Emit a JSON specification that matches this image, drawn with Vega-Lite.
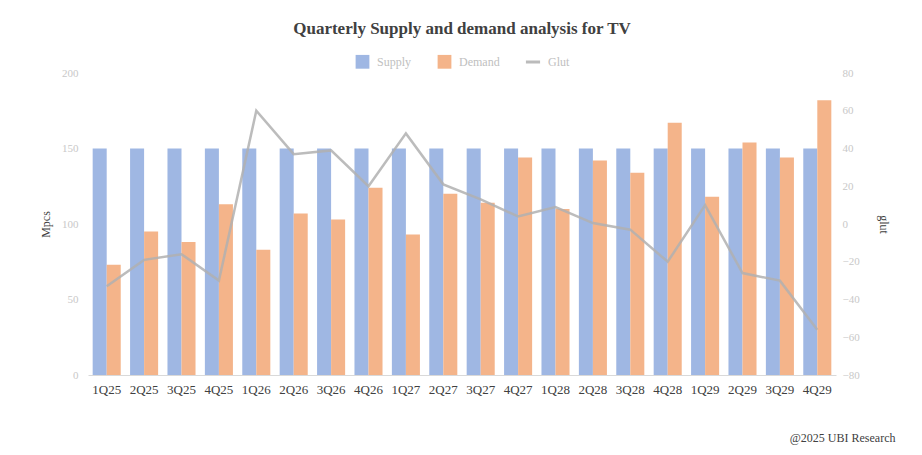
{
  "$schema": "https://vega.github.io/schema/vega-lite/v6.json",
  "width": 748,
  "height": 302,
  "autosize": "none",
  "padding": {"left": 88, "top": 73, "right": 86, "bottom": 80},
  "background": "white",
  "title": {
    "text": "Quarterly Supply and demand analysis for TV",
    "font": "Liberation Serif",
    "fontSize": 17,
    "fontWeight": "bold",
    "color": "#404040",
    "anchor": "middle",
    "offset": 15
  },
  "datasets": {
    "bars": [
      {"q": "1Q25", "series": "Supply", "value": 150}, {"q": "1Q25", "series": "Demand", "value": 73},
      {"q": "2Q25", "series": "Supply", "value": 150}, {"q": "2Q25", "series": "Demand", "value": 95},
      {"q": "3Q25", "series": "Supply", "value": 150}, {"q": "3Q25", "series": "Demand", "value": 88},
      {"q": "4Q25", "series": "Supply", "value": 150}, {"q": "4Q25", "series": "Demand", "value": 113},
      {"q": "1Q26", "series": "Supply", "value": 150}, {"q": "1Q26", "series": "Demand", "value": 83},
      {"q": "2Q26", "series": "Supply", "value": 150}, {"q": "2Q26", "series": "Demand", "value": 107},
      {"q": "3Q26", "series": "Supply", "value": 150}, {"q": "3Q26", "series": "Demand", "value": 103},
      {"q": "4Q26", "series": "Supply", "value": 150}, {"q": "4Q26", "series": "Demand", "value": 124},
      {"q": "1Q27", "series": "Supply", "value": 150}, {"q": "1Q27", "series": "Demand", "value": 93},
      {"q": "2Q27", "series": "Supply", "value": 150}, {"q": "2Q27", "series": "Demand", "value": 120},
      {"q": "3Q27", "series": "Supply", "value": 150}, {"q": "3Q27", "series": "Demand", "value": 114},
      {"q": "4Q27", "series": "Supply", "value": 150}, {"q": "4Q27", "series": "Demand", "value": 144},
      {"q": "1Q28", "series": "Supply", "value": 150}, {"q": "1Q28", "series": "Demand", "value": 110},
      {"q": "2Q28", "series": "Supply", "value": 150}, {"q": "2Q28", "series": "Demand", "value": 142},
      {"q": "3Q28", "series": "Supply", "value": 150}, {"q": "3Q28", "series": "Demand", "value": 134},
      {"q": "4Q28", "series": "Supply", "value": 150}, {"q": "4Q28", "series": "Demand", "value": 167},
      {"q": "1Q29", "series": "Supply", "value": 150}, {"q": "1Q29", "series": "Demand", "value": 118},
      {"q": "2Q29", "series": "Supply", "value": 150}, {"q": "2Q29", "series": "Demand", "value": 154},
      {"q": "3Q29", "series": "Supply", "value": 150}, {"q": "3Q29", "series": "Demand", "value": 144},
      {"q": "4Q29", "series": "Supply", "value": 150}, {"q": "4Q29", "series": "Demand", "value": 182}
    ],
    "glut": [
      {"q": "1Q25", "series": "Glut", "glut": -33},
      {"q": "2Q25", "series": "Glut", "glut": -19},
      {"q": "3Q25", "series": "Glut", "glut": -16},
      {"q": "4Q25", "series": "Glut", "glut": -30},
      {"q": "1Q26", "series": "Glut", "glut": 60},
      {"q": "2Q26", "series": "Glut", "glut": 37},
      {"q": "3Q26", "series": "Glut", "glut": 39},
      {"q": "4Q26", "series": "Glut", "glut": 20},
      {"q": "1Q27", "series": "Glut", "glut": 48},
      {"q": "2Q27", "series": "Glut", "glut": 21},
      {"q": "3Q27", "series": "Glut", "glut": 13},
      {"q": "4Q27", "series": "Glut", "glut": 4},
      {"q": "1Q28", "series": "Glut", "glut": 9},
      {"q": "2Q28", "series": "Glut", "glut": 0.5},
      {"q": "3Q28", "series": "Glut", "glut": -3},
      {"q": "4Q28", "series": "Glut", "glut": -20},
      {"q": "1Q29", "series": "Glut", "glut": 10},
      {"q": "2Q29", "series": "Glut", "glut": -26},
      {"q": "3Q29", "series": "Glut", "glut": -30},
      {"q": "4Q29", "series": "Glut", "glut": -56}
    ]
  },
  "encoding": {
    "x": {
      "field": "q",
      "type": "nominal",
      "sort": null,
      "scale": {"paddingInner": 0.25, "paddingOuter": 0.125},
      "axis": {
        "title": "@2025 UBI Research",
        "titleFont": "Liberation Serif",
        "titleFontSize": 12,
        "titleFontWeight": "normal",
        "titleColor": "#404040",
        "titleAlign": "right",
        "titleAnchor": "end",
        "titleBaseline": "alphabetic",
        "titleX": 807,
        "titleY": 66,
        "labelAngle": 0,
        "labelFont": "Liberation Serif",
        "labelFontSize": 13,
        "labelColor": "#404040",
        "labelPadding": 8,
        "ticks": false,
        "domain": true,
        "domainColor": "#d9d9d9",
        "grid": false
      }
    }
  },
  "layer": [
    {
      "data": {"name": "bars"},
      "mark": {"type": "bar"},
      "encoding": {
        "xOffset": {"field": "series", "type": "nominal", "sort": ["Supply", "Demand"]},
        "y": {
          "field": "value",
          "type": "quantitative",
          "scale": {"domain": [0, 200]},
          "axis": {
            "title": "Mpcs",
            "titleFont": "Liberation Serif",
            "titleFontSize": 12,
            "titleFontWeight": "normal",
            "titleColor": "#404040",
            "titleX": -43,
            "titleY": 151,
            "titleAngle": -90,
            "titleAlign": "center",
            "titleBaseline": "middle",
            "values": [0, 50, 100, 150, 200],
            "labelFont": "Liberation Serif",
            "labelFontSize": 11,
            "labelColor": "#c8c8c8",
            "labelPadding": 10,
            "ticks": false,
            "domain": false,
            "grid": false
          }
        },
        "fill": {
          "field": "series",
          "type": "nominal",
          "sort": ["Supply", "Demand"],
          "scale": {"domain": ["Supply", "Demand"], "range": ["#9fb7e3", "#f4b48a"]},
          "legend": {"title": null, "columnPadding": 24, "symbolType": "square", "symbolSize": 190, "labelOffset": 6}
        }
      }
    },
    {
      "data": {"name": "glut"},
      "mark": {"type": "line", "strokeWidth": 2.5, "opacity": 0.85},
      "encoding": {
        "y": {
          "field": "glut",
          "type": "quantitative",
          "scale": {"domain": [-80, 80]},
          "axis": {
            "orient": "right",
            "title": "glut",
            "titleFont": "Liberation Serif",
            "titleFontSize": 12,
            "titleFontWeight": "normal",
            "titleColor": "#404040",
            "titleX": 47,
            "titleY": 151,
            "titleAngle": 90,
            "titleAlign": "center",
            "titleBaseline": "middle",
            "values": [-80, -60, -40, -20, 0, 20, 40, 60, 80],
            "labelFont": "Liberation Serif",
            "labelFontSize": 11,
            "labelColor": "#c8c8c8",
            "labelPadding": 6,
            "ticks": false,
            "domain": false,
            "grid": false
          }
        },
        "stroke": {
          "field": "series",
          "type": "nominal",
          "scale": {"domain": ["Glut"], "range": ["#b0b0b0"]},
          "legend": {"title": null, "symbolType": "stroke", "symbolSize": 200, "labelOffset": 6}
        }
      }
    }
  ],
  "resolve": {"scale": {"y": "independent"}},
  "config": {
    "view": {"stroke": null},
    "legend": {
      "orient": "top",
      "direction": "horizontal",
      "labelFont": "Liberation Serif",
      "labelFontSize": 12,
      "labelColor": "#c0c0c0",
      "symbolStrokeWidth": 3,
      "offset": 4,
      "layout": {"top": {"anchor": "middle", "margin": 24}}
    }
  }
}
